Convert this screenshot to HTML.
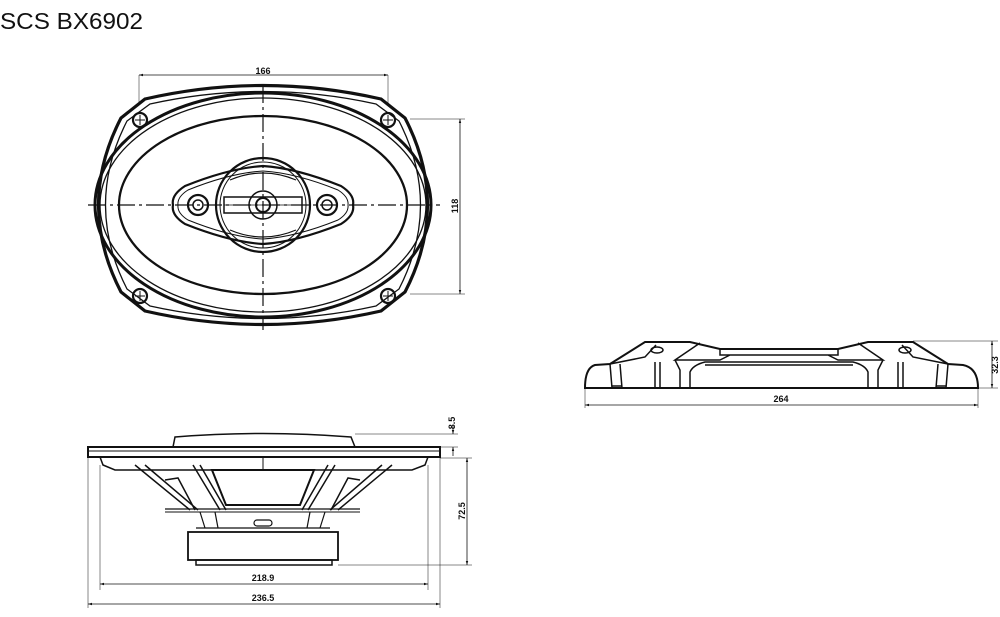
<!DOCTYPE html>
<html><head><style>
html,body{margin:0;padding:0;background:#fff;}
svg{display:block;}
text{font-family:"Liberation Sans",sans-serif;fill:#111;}
.d{font-size:9px;font-weight:bold;}
</style></head><body>
<svg width="1000" height="617" viewBox="0 0 1000 617" xmlns="http://www.w3.org/2000/svg">
<defs>
<marker id="a" viewBox="0 0 10 10" refX="10" refY="5" markerWidth="5" markerHeight="5" orient="auto-start-reverse"><path d="M0,2L10,5L0,8z" fill="#111"/></marker>
</defs>
<text x="0" y="29" style="font-size:23px" textLength="143" lengthAdjust="spacingAndGlyphs">SCS BX6902</text>

<!-- TOP VIEW -->
<g fill="none" stroke="#111">
<line x1="139" y1="75" x2="388" y2="75" stroke-width="0.8" marker-start="url(#a)" marker-end="url(#a)"/>
<line x1="139" y1="75" x2="139" y2="105" stroke-width="0.5"/>
<line x1="388" y1="75" x2="388" y2="105" stroke-width="0.5"/>
<path d="M145,99 Q263,72 381,99 L405,118 Q450,205 405,292 L381,311 Q263,338 145,311 L121,292 Q76,205 121,118 Z" stroke-width="3.2"/>
<path d="M150,104 Q263,79 376,104 L399,121 Q442,205 399,289 L376,306 Q263,331 150,306 L127,289 Q84,205 127,121 Z" stroke-width="1.3"/>
<ellipse cx="263" cy="205" rx="168" ry="112" stroke-width="3"/>
<ellipse cx="263" cy="205" rx="163" ry="107" stroke-width="1.3"/>
<ellipse cx="263" cy="205" rx="144" ry="89" stroke-width="2.3"/>
<path d="M185,186 Q230,168 263,166 Q296,168 341,186 Q355,195 353,205 Q355,215 341,224 Q296,242 263,244 Q230,242 185,224 Q171,215 173,205 Q171,195 185,186 Z" stroke-width="2.2"/>
<path d="M188,190 Q230,173 263,171 Q296,173 338,190 Q349,197 348,205 Q349,213 338,220 Q296,237 263,239 Q230,237 188,220 Q177,213 178,205 Q177,197 188,190 Z" stroke-width="1"/>
<circle cx="263" cy="205" r="47" stroke-width="2.2"/>
<circle cx="263" cy="205" r="43" stroke-width="1"/>
<rect x="224" y="197" width="78" height="16" stroke-width="1.5"/>
<line x1="224" y1="205" x2="302" y2="205" stroke-width="0.8"/>
<circle cx="263" cy="205" r="14" stroke-width="1.5"/>
<circle cx="263" cy="205" r="7" stroke-width="2"/>
<path d="M230,180 Q263,166 296,180" stroke-width="1.2"/>
<path d="M230,230 Q263,244 296,230" stroke-width="1.2"/>
<circle cx="198" cy="205" r="10" stroke-width="2.2"/>
<circle cx="198" cy="205" r="5" stroke-width="1.5"/>
<circle cx="327" cy="205" r="10" stroke-width="2.2"/>
<circle cx="327" cy="205" r="5" stroke-width="1.5"/>
<g stroke-width="2.2">
<circle cx="140" cy="120" r="7"/><circle cx="388" cy="120" r="7"/>
<circle cx="140" cy="296" r="7"/><circle cx="388" cy="296" r="7"/>
</g>
<g stroke-width="1">
<path d="M135,120h10M140,115v10M383,120h10M388,115v10M135,296h10M140,291v10M383,296h10M388,291v10"/>
</g>
<line x1="88" y1="205" x2="440" y2="205" stroke-width="1.2" stroke-dasharray="18,4,3,4"/>
<line x1="263" y1="85" x2="263" y2="330" stroke-width="1.2" stroke-dasharray="18,4,3,4"/>
<line x1="410" y1="119" x2="465" y2="119" stroke-width="0.5"/>
<line x1="410" y1="294" x2="465" y2="294" stroke-width="0.5"/>
<line x1="460" y1="119" x2="460" y2="294" stroke-width="0.8" marker-start="url(#a)" marker-end="url(#a)"/>
</g>
<text class="d" x="263" y="74" text-anchor="middle">166</text>
<text class="d" x="0" y="0" text-anchor="middle" transform="translate(458,206) rotate(-90)">118</text>

<!-- SIDE VIEW -->
<g fill="none" stroke="#111">
<path d="M173,447 L175,437 Q263,430 351,437 L355,447" stroke-width="1.5"/>
<rect x="88" y="447" width="352" height="10" stroke-width="2"/>
<line x1="88" y1="451" x2="440" y2="451" stroke-width="1"/>
<path d="M100,457 L103,465 L115,470 L412,470 L425,465 L428,457" stroke-width="1.5"/>
<path d="M135,465 L190,510 M145,465 L198,510 M392,465 L338,510 M382,465 L330,510" stroke-width="1.5"/>
<path d="M193,465 L220,510 M200,465 L226,510 M335,465 L308,510 M328,465 L302,510" stroke-width="1.5"/>
<path d="M212,470 L314,470 L300,505 L226,505 Z" stroke-width="2"/>
<path d="M165,480 L178,478 L195,510 M360,480 L348,478 L331,510" stroke-width="1.5"/>
<line x1="263" y1="457" x2="263" y2="470" stroke-width="1"/>
<line x1="165" y1="509" x2="360" y2="509" stroke-width="1.2"/>
<line x1="165" y1="512" x2="360" y2="512" stroke-width="1"/>
<path d="M200,512 L205,528 M215,512 L218,528 M310,512 L307,528 M325,512 L320,528" stroke-width="1.2"/>
<rect x="254" y="520" width="18" height="6" rx="3" stroke-width="1.2"/>
<line x1="196" y1="528" x2="330" y2="528" stroke-width="1.2"/>
<rect x="188" y="532" width="150" height="28" stroke-width="1.8"/>
<rect x="196" y="560" width="136" height="5" stroke-width="1.5"/>
<line x1="355" y1="434" x2="458" y2="434" stroke-width="0.5"/>
<line x1="440" y1="447" x2="458" y2="447" stroke-width="0.5"/>
<line x1="453" y1="426" x2="453" y2="434" stroke-width="0.8" marker-end="url(#a)"/>
<line x1="453" y1="456" x2="453" y2="447" stroke-width="0.8" marker-end="url(#a)"/>
<line x1="440" y1="458" x2="472" y2="458" stroke-width="0.5"/>
<line x1="338" y1="565" x2="472" y2="565" stroke-width="0.5"/>
<line x1="467" y1="458" x2="467" y2="565" stroke-width="0.8" marker-start="url(#a)" marker-end="url(#a)"/>
<line x1="100" y1="465" x2="100" y2="590" stroke-width="0.5"/>
<line x1="428" y1="465" x2="428" y2="590" stroke-width="0.5"/>
<line x1="88" y1="457" x2="88" y2="608" stroke-width="0.5"/>
<line x1="440" y1="457" x2="440" y2="608" stroke-width="0.5"/>
<line x1="100" y1="584" x2="428" y2="584" stroke-width="0.8" marker-start="url(#a)" marker-end="url(#a)"/>
<line x1="88" y1="604" x2="440" y2="604" stroke-width="0.8" marker-start="url(#a)" marker-end="url(#a)"/>
</g>
<text class="d" x="0" y="0" text-anchor="middle" transform="translate(455,423) rotate(-90)">8.5</text>
<text class="d" x="0" y="0" text-anchor="middle" transform="translate(465,511) rotate(-90)">72.5</text>
<text class="d" x="263" y="581" text-anchor="middle">218.9</text>
<text class="d" x="263" y="601" text-anchor="middle">236.5</text>

<!-- RIGHT VIEW -->
<g fill="none" stroke="#111" stroke-width="1.5">
<path d="M585,388 Q585,368 595,365 L610,364 L645,342 L690,342 L720,349 L838,349 L868,342 L913,342 L948,364 L963,365 Q978,368 978,388 Z" stroke-width="2"/>
<path d="M610,364 L645,357 L656,345 M700,343 L675,360 L720,360 L730,355 M720,349 L720,355 L838,355 L838,349 M948,364 L913,357 L902,345 M858,343 L883,360 L838,360 L828,355"/>
<path d="M675,360 L680,370 L680,388 M883,360 L878,370 L878,388"/>
<path d="M690,388 L690,372 Q693,365 705,362 L853,362 Q865,365 868,372 L868,388"/>
<line x1="705" y1="365" x2="853" y2="365"/>
<path d="M610,364 L612,388 M620,364 L622,388 M655,362 L655,388 M660,362 L660,388 M948,364 L946,388 M938,364 L936,388 M903,362 L903,388 M898,362 L898,388"/>
<line x1="612" y1="386" x2="622" y2="386"/>
<line x1="936" y1="386" x2="946" y2="386"/>
<ellipse cx="657" cy="350" rx="6" ry="3"/>
<ellipse cx="905" cy="350" rx="6" ry="3"/>
</g>
<g fill="none" stroke="#111">
<line x1="913" y1="341" x2="998" y2="341" stroke-width="0.5"/>
<line x1="978" y1="388" x2="998" y2="388" stroke-width="0.5"/>
<line x1="992" y1="341" x2="992" y2="388" stroke-width="0.8" marker-start="url(#a)" marker-end="url(#a)"/>
<line x1="585" y1="388" x2="585" y2="408" stroke-width="0.5"/>
<line x1="978" y1="388" x2="978" y2="408" stroke-width="0.5"/>
<line x1="585" y1="405" x2="978" y2="405" stroke-width="0.8" marker-start="url(#a)" marker-end="url(#a)"/>
</g>
<text class="d" x="0" y="0" text-anchor="middle" transform="translate(998,365) rotate(-90)">32.3</text>
<text class="d" x="781" y="402" text-anchor="middle">264</text>
</svg>
</body></html>
